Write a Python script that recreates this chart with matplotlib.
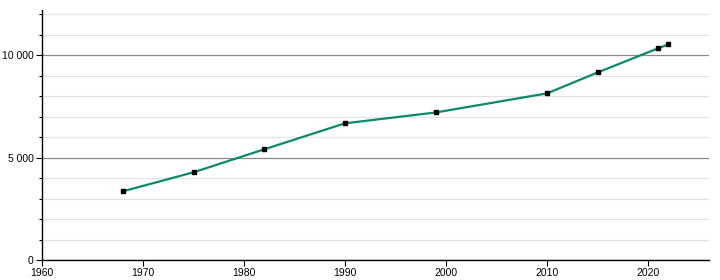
import matplotlib
matplotlib.use("Agg")
import matplotlib.pyplot as plt
from matplotlib.ticker import MultipleLocator, FuncFormatter

# Population data
years = [1968, 1975, 1982, 1990, 1999, 2010, 2015, 2021, 2022]
population = [3350, 4280, 5400, 6670, 7200, 8130, 9150, 10330, 10520]

plt.rcParams['font.family'] = ['Liberation Sans', 'DejaVu Sans']

fig = plt.figure(figsize=(7.2, 2.8), dpi=100)
ax = fig.add_axes([0.0583, 0.0714, 0.926, 0.893])

ax.plot(years, population, color='#0a8a6a', linewidth=1.6, zorder=3)
ax.plot(years, population, linestyle='none', marker='s', markersize=3.5,
        color='black', zorder=4)

ax.set_xlim(1960, 2026)
ax.set_ylim(0, 12200)

ax.xaxis.set_major_locator(MultipleLocator(10))
ax.yaxis.set_major_locator(MultipleLocator(5000))
ax.yaxis.set_minor_locator(MultipleLocator(1000))
ax.yaxis.set_major_formatter(FuncFormatter(lambda v, p: f"{int(v):,}".replace(",", " ")))

# grid lines
ax.grid(axis='y', which='minor', color='#e2e2e2', linewidth=0.9, zorder=0)
ax.grid(axis='y', which='major', color='#8a8a8a', linewidth=0.9, zorder=1)

ax.spines['top'].set_visible(False)
ax.spines['right'].set_visible(False)
ax.spines['left'].set_linewidth(1.0)
ax.spines['bottom'].set_linewidth(1.0)

ax.tick_params(axis='both', which='major', labelsize=7.5, length=4, width=0.8, pad=2)
ax.tick_params(axis='y', which='minor', length=2, width=0.8)

fig.savefig("out.png", dpi=100)
